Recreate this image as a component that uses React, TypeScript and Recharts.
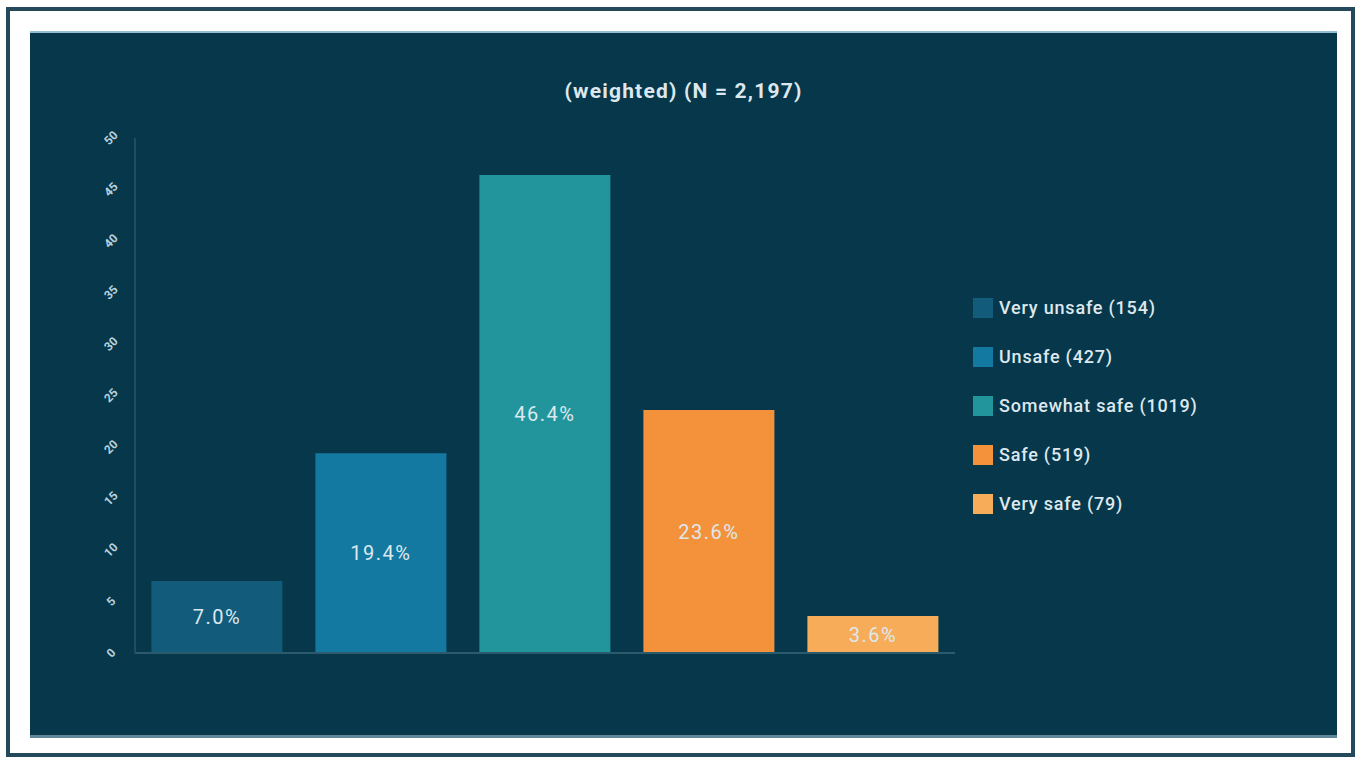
import React from "react";
import { BarChart, Bar, XAxis, YAxis, Cell, LabelList } from "recharts";

const categories = ["Very unsafe (154)", "Unsafe (427)", "Somewhat safe (1019)", "Safe (519)", "Very safe (79)"];
const values = [7.0, 19.4, 46.4, 23.6, 3.6];
const colors = ["#135b7a", "#1479a0", "#22959c", "#f3923b", "#f6ac58"];
const yTicks = [0, 5, 10, 15, 20, 25, 30, 35, 40, 45, 50];
const title = "(weighted) (N = 2,197)";

const data = categories.map((c, i) => ({ name: c, value: values[i] }));

const PANEL = "#06374b";
const TEXT = "#dde8ee";
const FONT = "Roboto, 'Noto Sans', sans-serif";

const RotTick = (props: any) => {
  const { x, y, payload } = props;
  return (
    <text
      x={x}
      y={y}
      transform={`rotate(-45, ${x}, ${y})`}
      textAnchor="middle"
      dominantBaseline="central"
      fontSize={12}
      fontWeight={700}
      fill="#b9d0dc"
      fontFamily={FONT}
    >
      {payload.value}
    </text>
  );
};

export default function App() {
  return (
    <div style={{ position: "absolute", left: 0, top: 0, width: 1361, height: 759, background: "#ffffff", overflow: "hidden" }}>
      <div style={{ position: "absolute", left: 6, top: 7, width: 1349, height: 750, border: "4px solid #24495a", boxSizing: "border-box" }} />
      <div
        style={{
          position: "absolute",
          left: 30,
          top: 31,
          width: 1307,
          height: 707,
          background: PANEL,
          borderTop: "2px solid #93bdd0",
          borderBottom: "3px solid #5f8797",
          boxSizing: "border-box",
        }}
      >
        <div
          style={{
            position: "absolute",
            left: 0,
            top: 46,
            width: 1307,
            textAlign: "center",
            color: TEXT,
            fontFamily: FONT,
            fontWeight: 700,
            fontSize: 21,
            letterSpacing: 1.2,
          }}
        >
          {title}
        </div>
        <div style={{ position: "absolute", left: 0, top: -2 }}>
          <BarChart
            width={1307}
            height={707}
            data={data}
            margin={{ top: 107, right: 382, bottom: 84, left: 45 }}
            barCategoryGap="10%"
          >
            <XAxis dataKey="name" tick={false} axisLine={{ stroke: "#2c5a6d", strokeWidth: 2 }} tickLine={false} height={1} />
            <YAxis
              domain={[0, 50]}
              ticks={yTicks}
              width={60}
              tick={<RotTick />}
              tickLine={false}
              axisLine={{ stroke: "#1f4e62", strokeWidth: 2 }}
              interval={0}
              tickMargin={18}
            />
            <Bar dataKey="value" isAnimationActive={false}>
              {data.map((d, i) => (
                <Cell key={d.name} fill={colors[i]} />
              ))}
              <LabelList
                dataKey="value"
                position="center"
                formatter={(v: any) => `${Number(v).toFixed(1)}%`}
                style={{ fill: TEXT, fontSize: 20, fontFamily: FONT, letterSpacing: 1.5 }}
              />
            </Bar>
          </BarChart>
        </div>
        <div style={{ position: "absolute", left: 943, top: 250, fontFamily: FONT }}>
          {categories.map((c, i) => (
            <div key={c} style={{ display: "flex", alignItems: "center", height: 49 }}>
              <div style={{ width: 20, height: 20, background: colors[i], marginRight: 6 }} />
              <span style={{ color: TEXT, fontSize: 18, fontWeight: 500, letterSpacing: 0.8 }}>{c}</span>
            </div>
          ))}
        </div>
      </div>
    </div>
  );
}
